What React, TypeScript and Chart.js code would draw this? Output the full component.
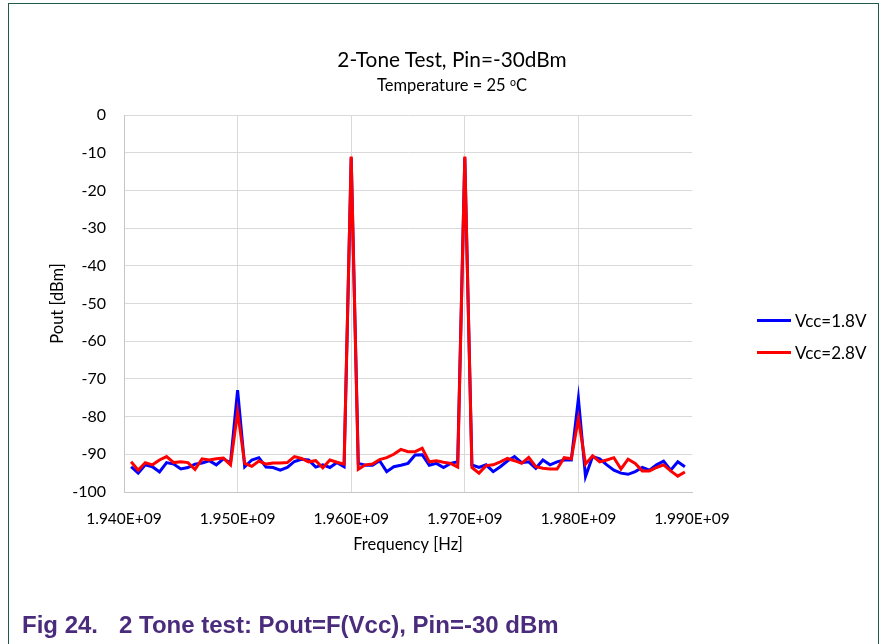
import React, { useEffect, useRef } from "react";
import { Chart, registerables } from "chart.js";

Chart.register(...registerables);

// Sweep grid of the spectrum analyser (Hz)
const sweepStartHz = 1.940625e9;
const sweepStepHz = 0.625e6;

// Output power at each sweep point (dBm)
const pout18V = [
  -93.3, -95.0, -92.8, -93.3, -94.7, -92.2, -92.6, -93.9, -93.5, -92.6, -92.3, -91.7, -92.8, -91.2, -92.3,
  -73.0,
  -93.3, -91.5, -90.9, -93.4, -93.5, -94.2, -93.5, -91.9, -91.3, -91.5, -93.4, -92.8, -93.5, -92.2, -93.3,
  -11.3,
  -92.4, -92.9, -92.9, -91.7, -94.6, -93.3, -92.9, -92.4, -90.2, -90.1, -92.9, -92.4, -93.5, -92.4, -92.0,
  -11.3,
  -92.8, -93.5, -92.8, -94.6, -93.3, -91.8, -90.6, -92.2, -92.0, -93.7, -91.5, -92.8, -92.0, -91.5, -91.5,
  -75.2,
  -95.9, -90.6, -91.2, -92.8, -94.2, -95.0, -95.3, -94.6, -93.5, -94.2, -92.8, -91.8, -94.2, -92.0, -93.3,
];

const pout28V = [
  -92.0, -94.2, -92.2, -92.8, -91.5, -90.6, -92.2, -92.0, -92.2, -94.0, -91.2, -91.5, -91.2, -91.0, -92.8,
  -78.7,
  -92.4, -93.2, -91.8, -92.6, -92.3, -92.3, -92.2, -90.6, -91.1, -92.0, -91.7, -93.6, -91.5, -92.1, -92.6,
  -11.0,
  -94.0, -92.8, -92.6, -91.4, -90.9, -90.0, -88.7, -89.3, -89.3, -88.4, -92.0, -91.7, -92.1, -92.4, -93.4,
  -11.0,
  -93.5, -95.0, -93.0, -92.8, -92.0, -91.1, -91.7, -92.4, -90.8, -93.3, -93.7, -93.9, -93.9, -90.9, -91.2,
  -80.5,
  -92.6, -90.4, -92.0, -91.5, -90.9, -93.9, -91.3, -92.4, -94.4, -94.4, -93.5, -92.8, -94.4, -95.8, -94.7,
];

const seriesLabels = ["Vcc=1.8V", "Vcc=2.8V"];
const seriesColors = ["#0000ff", "#ff0000"];
// the 2.8 V trace is painted over the 1.8 V one
const seriesOrder = [1, 0];

const xMin = 1.94e9;
const xMax = 1.99e9;
const xStep = 1e7;
const yMin = -100;
const yMax = 0;
const yStep = 10;

const chartFont = "Lato, Carlito, sans-serif";

function toPoints(values: number[]) {
  return values.map((y, i) => ({ x: sweepStartHz + i * sweepStepHz, y }));
}

function formatHz(v: number) {
  return (v / 1e9).toFixed(3) + "E+09";
}

function ChartCanvas() {
  const ref = useRef<HTMLCanvasElement | null>(null);

  useEffect(() => {
    if (!ref.current) return;
    const zeroPad = (s: any) => {
      s.paddingLeft = 0;
      s.paddingRight = 0;
      s.paddingTop = 0;
      s.paddingBottom = 0;
    };
    const chart = new Chart(ref.current, {
      type: "scatter",
      data: {
        datasets: [pout18V, pout28V].map((vals, i) => ({
          label: seriesLabels[i],
          data: toPoints(vals),
          order: seriesOrder[i],
          showLine: true,
          borderColor: seriesColors[i],
          backgroundColor: seriesColors[i],
          borderWidth: 3,
          pointRadius: 0,
          tension: 0,
        })),
      },
      options: {
        animation: false,
        responsive: false,
        events: [],
        layout: { padding: { left: 0, top: 115, right: 193, bottom: 0 } },
        plugins: { legend: { display: false }, tooltip: { enabled: false } },
        scales: {
          x: {
            type: "linear",
            min: xMin,
            max: xMax,
            afterFit: (s: any) => {
              s.height = 152;
              zeroPad(s);
            },
            ticks: {
              stepSize: xStep,
              maxRotation: 0,
              autoSkip: false,
              padding: 18,
              color: "#000",
              font: { family: chartFont, size: 15.5 },
              callback: (v: any) => formatHz(Number(v)),
            },
            grid: {
              drawTicks: false,
              color: (c: any) => (c.index === 5 ? "rgba(0,0,0,0)" : "#d9d9d9"),
            },
            border: { color: "#c6c6c6" },
            title: {
              display: true,
              text: "Frequency [Hz]",
              color: "#000",
              font: { family: chartFont, size: 16.5 },
              padding: { top: 0, bottom: 89 },
            },
          },
          y: {
            min: yMin,
            max: yMax,
            afterFit: (s: any) => {
              s.width = 124;
              zeroPad(s);
            },
            ticks: {
              stepSize: yStep,
              padding: 18,
              color: "#000",
              font: { family: chartFont, size: 16 },
            },
            grid: { drawTicks: false, color: "#d9d9d9" },
            border: { color: "#c6c6c6" },
            title: {
              display: true,
              text: "Pout [dBm]",
              color: "#000",
              font: { family: chartFont, size: 16.5 },
              padding: { top: 48, bottom: 0 },
            },
          },
        },
      },
    });
    return () => chart.destroy();
  }, []);

  return (
    <canvas
      ref={ref}
      width={885}
      height={644}
      style={{ position: "absolute", left: 0, top: 0, width: 885, height: 644 }}
    />
  );
}

export default function App() {
  return (
    <div
      style={{
        position: "absolute",
        left: 0,
        top: 0,
        width: 885,
        height: 644,
        background: "#fff",
        overflow: "hidden",
        fontFamily: chartFont,
      }}
    >
      <div
        style={{
          position: "absolute",
          left: 8,
          top: 3,
          width: 871,
          height: 700,
          border: "1px solid #1e5a4b",
          boxSizing: "border-box",
        }}
      />
      <ChartCanvas />
      <div
        style={{
          position: "absolute",
          left: 0,
          width: 904,
          top: 46,
          textAlign: "center",
          fontSize: 20.8,
          lineHeight: "26px",
          color: "#000",
        }}
      >
        2-Tone Test, Pin=-30dBm
      </div>
      <div
        style={{
          position: "absolute",
          left: 0,
          width: 904,
          top: 72,
          textAlign: "center",
          fontSize: 16.5,
          lineHeight: "20px",
          color: "#000",
        }}
      >
        Temperature = 25 <sup style={{ fontSize: 10.5, verticalAlign: "5px" }}>o</sup>C
      </div>
      {seriesLabels.map((label, i) => (
        <div
          key={label}
          style={{ position: "absolute", left: 757, top: 310 + i * 32, height: 20, display: "flex", alignItems: "center" }}
        >
          <div style={{ width: 34, height: 3, background: seriesColors[i], marginRight: 4 }} />
          <span style={{ fontSize: 17, color: "#000" }}>{label}</span>
        </div>
      ))}
      <div
        style={{
          position: "absolute",
          left: 22,
          top: 611,
          fontFamily: "'Liberation Sans', Arial, sans-serif",
          fontWeight: "bold",
          fontSize: 24,
          lineHeight: "28px",
          color: "#4b2c7c",
          whiteSpace: "pre",
        }}
      >
        <span>Fig 24.</span>
        <span style={{ position: "absolute", left: 97, top: 0 }}>2 Tone test: Pout=F(Vcc), Pin=-30 dBm</span>
      </div>
    </div>
  );
}
